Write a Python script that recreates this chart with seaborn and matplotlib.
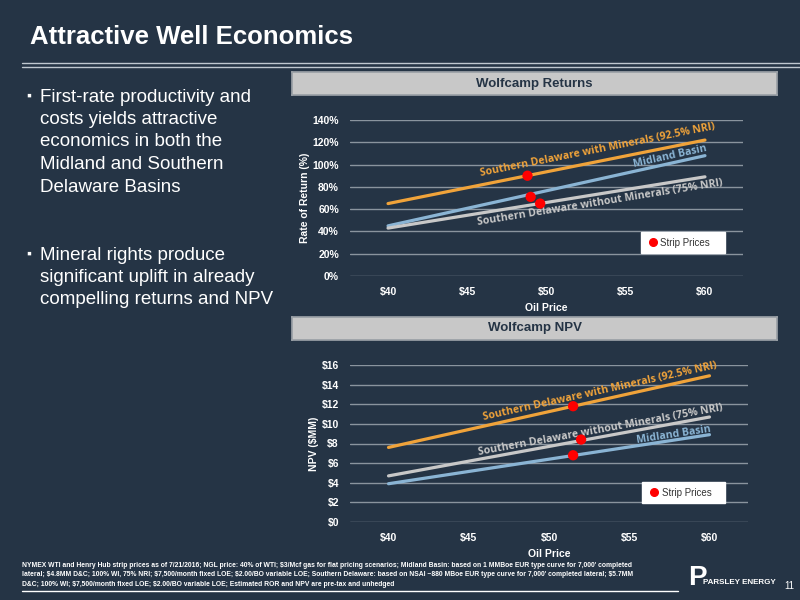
import matplotlib
matplotlib.use("Agg")
import matplotlib.pyplot as plt
import seaborn as sns
import numpy as np
import pandas as pd
from matplotlib.lines import Line2D
from matplotlib.patches import Rectangle

sns.set_theme(style="dark")
plt.rcParams['font.family'] = ['Liberation Sans', 'DejaVu Sans']
plt.rcParams['text.parse_math'] = False

oil_price = [40, 60]
ror_with_minerals = [65, 122]
ror_midland = [45, 108]
ror_without_minerals = [43, 89]
ror_strip_x = [48.8, 49.0, 49.6]
ror_strip_y = [90, 71, 65]

npv_with_minerals = [7.6, 14.9]
npv_without_minerals = [4.7, 10.7]
npv_midland = [3.9, 8.9]
npv_strip_x = [51.5, 52.0, 51.5]
npv_strip_y = [11.8, 8.4, 6.8]

x_ticks = [40, 45, 50, 55, 60]
x_labels = ["$40", "$45", "$50", "$55", "$60"]

BG = "#253445"
ORANGE = "#f0a33a"
BLUE = "#8ab4d4"
GRAY = "#c8c8c8"

fig = plt.figure(figsize=(8, 6), dpi=100, facecolor=BG)

def px(x0, y0, x1, y1):
    return [x0/800, 1-y1/600, (x1-x0)/800, (y1-y0)/600]

fig.text(30/800, 1-37/600, "Attractive Well Economics", color="white", fontsize=18.5,
         fontweight="bold", va="center", ha="left")
fig.add_artist(Line2D([22/800, 1], [1-63/600]*2, color="#c0c8d0", lw=1))
fig.add_artist(Line2D([22/800, 1], [1-67/600]*2, color="#c0c8d0", lw=1))

bullet1 = ["First-rate productivity and", "costs yields attractive",
           "economics in both the", "Midland and Southern", "Delaware Basins"]
bullet2 = ["Mineral rights produce", "significant uplift in already",
           "compelling returns and NPV"]
for lines, y0 in [(bullet1, 97), (bullet2, 255)]:
    fig.text(26/800, 1-(y0-1)/600, "\u25aa", color="white", fontsize=10, va="center")
    for i, t in enumerate(lines):
        fig.text(40/800, 1-(y0+i*22.5)/600, t, color="white", fontsize=13.5, va="center")

def title_box(y0, y1, text):
    ax = fig.add_axes(px(292, y0, 777, y1))
    ax.set_facecolor("#c8c8c8")
    ax.set_xticks([]); ax.set_yticks([])
    for s in ax.spines.values():
        s.set_color("#9aa0a6")
    ax.text(0.5, 0.5, text, transform=ax.transAxes, ha="center", va="center",
            fontsize=9.5, fontweight="bold", color="#253445")

def chart(rect, data, ylim, yticks, ylabels, ylabel, sx, sy, labels, legbox):
    ax = fig.add_axes(rect)
    ax.set_facecolor(BG)
    for name, ys, c in data:
        df = pd.DataFrame({"x": oil_price, "y": ys})
        sns.lineplot(data=df, x="x", y="y", color=c, lw=2.3, ax=ax)
    sns.scatterplot(x=sx, y=sy, color="#ff0000", s=55, edgecolor="none", ax=ax, zorder=5)
    ax.set_xlim(37.6, 62.4)
    ax.set_ylim(*ylim)
    ax.set_yticks(yticks)
    ax.set_yticklabels(ylabels)
    ax.set_xticks(x_ticks)
    ax.set_xticklabels(x_labels)
    ax.tick_params(colors="white", labelsize=7.5, length=0, pad=8)
    for l in ax.get_xticklabels() + ax.get_yticklabels():
        l.set_fontweight("bold")
    ax.grid(axis="y", color="#8a949e", lw=1)
    ax.grid(axis="x", visible=False)
    for s in ax.spines.values():
        s.set_visible(False)
    ax.set_xlabel("Oil Price", color="white", fontsize=7.5, fontweight="bold", labelpad=4)
    ax.set_ylabel(ylabel, color="white", fontsize=7.5, fontweight="bold", labelpad=2)
    fig.canvas.draw()
    for text, x, y, c, (xa, ya, xb, yb) in labels:
        p1 = ax.transData.transform((xa, ya)); p2 = ax.transData.transform((xb, yb))
        ang = np.degrees(np.arctan2(p2[1]-p1[1], p2[0]-p1[0]))
        ax.text(x, y, text, color=c, rotation=ang, rotation_mode="anchor",
                ha="center", va="center", fontsize=7.6, fontweight="bold",
                family=["Open Sans", "DejaVu Sans"])
    x0, y0, x1, y1 = legbox
    ax.add_patch(Rectangle((x0, y0), x1-x0, y1-y0, transform=ax.transAxes,
                           fc="white", ec="white", zorder=6))
    ym = (y0+y1)/2
    ax.plot([x0+0.03], [ym+0.005], "o", color="#ff0000", ms=5.5, transform=ax.transAxes, zorder=7)
    ax.text(x0+0.05, ym, "Strip Prices", transform=ax.transAxes, color="#333333",
            fontsize=7, va="center", ha="left", zorder=7)
    return ax

title_box(72, 95, "Wolfcamp Returns")
title_box(317, 340, "Wolfcamp NPV")

chart(px(350, 120, 743, 276),
      [("w", ror_with_minerals, ORANGE), ("m", ror_midland, BLUE), ("wo", ror_without_minerals, GRAY)],
      (0, 140), np.arange(0, 141, 20), [f"{v}%" for v in range(0, 141, 20)], "Rate of Return (%)",
      ror_strip_x, ror_strip_y,
      [("Southern Delaware with Minerals (92.5% NRI)", 53.2, 113, ORANGE, (40, 65, 60, 122)),
       ("Midland Basin", 57.8, 107, BLUE, (40, 45, 60, 108)),
       ("Southern Delaware without Minerals (75% NRI)", 53.4, 66, GRAY, (40, 43, 60, 89))],
      (0.74, 0.147, 0.955, 0.282))

chart(px(350, 365, 748, 522),
      [("w", npv_with_minerals, ORANGE), ("wo", npv_without_minerals, GRAY), ("m", npv_midland, BLUE)],
      (0, 16), np.arange(0, 17, 2), [f"${v}" for v in range(0, 17, 2)], "NPV ($MM)",
      npv_strip_x, npv_strip_y,
      [("Southern Delaware with Minerals (92.5% NRI)", 53.2, 13.3, ORANGE, (40, 7.6, 60, 14.9)),
       ("Southern Delaware without Minerals (75% NRI)", 53.2, 9.4, GRAY, (40, 4.7, 60, 10.7)),
       ("Midland Basin", 57.8, 8.9, BLUE, (40, 3.9, 60, 8.9))],
      (0.734, 0.12, 0.942, 0.255))

foot = ("NYMEX WTI and Henry Hub strip prices as of 7/21/2016; NGL price: 40% of WTI; $3/Mcf gas for flat pricing scenarios; Midland Basin: based on 1 MMBoe EUR type curve for 7,000' completed\n"
        "lateral; $4.8MM D&C; 100% WI, 75% NRI; $7,500/month fixed LOE; $2.00/BO variable LOE; Southern Delaware: based on NSAI ~880 MBoe EUR type curve for 7,000' completed lateral; $5.7MM\n"
        "D&C; 100% WI; $7,500/month fixed LOE; $2.00/BO variable LOE; Estimated ROR and NPV are pre-tax and unhedged")
fig.text(22/800, 1-575/600, foot, color="white", fontsize=4.9, fontweight="bold",
         va="center", ha="left", linespacing=1.45)
fig.add_artist(Line2D([22/800, 678/800], [1-591/600]*2, color="white", lw=1))
fig.text(688/800, 1-578/600, "P", color="white", fontsize=20, fontweight="bold", va="center")
fig.text(703/800, 1-583/600, "PARSLEY ENERGY", color="white", fontsize=5.8, fontweight="bold", va="center")
fig.text(784/800, 1-586/600, "11", color="white", fontsize=7, va="center")

fig.savefig("out.png", dpi=100, facecolor=BG)
